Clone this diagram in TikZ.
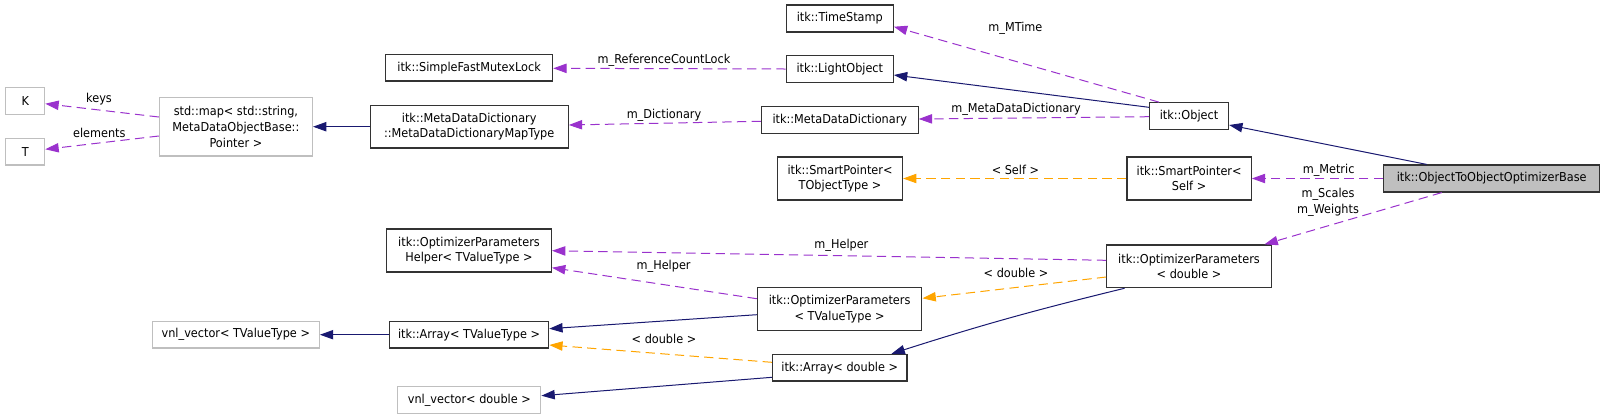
\documentclass[tikz,border=0pt]{standalone}
\usepackage{fontspec}
\setmainfont{DejaVu Sans}[FakeStretch=0.92]
\usetikzlibrary{arrows.meta,calc}
\definecolor{inh}{HTML}{191970}
\definecolor{usg}{HTML}{9A32CD}
\definecolor{tpl}{HTML}{FFA500}
\definecolor{gbd}{HTML}{BFBFBF}
\begin{document}
\begin{tikzpicture}[x=0.75pt,y=-0.75pt,
  font=\fontsize{9.2pt}{11.8pt}\selectfont,
  box/.style={draw=black!80,line width=0.9pt,inner sep=0pt,align=center},
  gbox/.style={draw=gbd,line width=0.9pt,inner sep=0pt,align=center},
  sz/.style 2 args={minimum width=#1*0.75pt,minimum height=#2*0.75pt},
  arr/.style={-{Triangle[length=10pt,width=7pt]},line width=0.75pt},
  inhe/.style={arr,draw=inh},
  usge/.style={arr,draw=usg,dash pattern=on 7pt off 4pt},
  tple/.style={arr,draw=tpl,dash pattern=on 7pt off 4pt},
  lbl/.style={inner sep=0pt,align=center}]
\useasboundingbox (0,0) rectangle (1605,419);
% nodes
\node[gbox,sz={39}{26.6}] (K) at (25.25,101) {K};
\node[gbox,sz={39}{26.7}] (T) at (25.25,151.7) {T};
\node[gbox,sz={153}{58.7}] (map) at (235.9,126.7) {std::map< std::string,\\ MetaDataObjectBase::\\Pointer >};
\node[box,sz={167}{26.7}] (mutex) at (469.1,67.7) {itk::SimpleFastMutexLock};
\node[box,sz={198}{42.7}] (mapType) at (469.2,126.7) {itk::MetaDataDictionary\\::MetaDataDictionaryMapType};
\node[box,sz={107}{27}] (ts) at (839.8,18.5) {itk::TimeStamp};
\node[box,sz={107}{26.6}] (lo) at (839.8,69) {itk::LightObject};
\node[box,sz={156.6}{26.6}] (mdd) at (839.8,120) {itk::MetaDataDictionary};
\node[box,sz={125}{43}] (spt) at (840,178.5) {itk::SmartPointer<\\TObjectType >};
\node[box,sz={79}{26.6}] (obj) at (1189,116) {itk::Object};
\node[box,sz={124.2}{43}] (sps) at (1189.1,178.5) {itk::SmartPointer<\\Self >};
\node[box,fill=gbd,sz={216.3}{27}] (base) at (1491.7,178.5) {itk::ObjectToObjectOptimizerBase};
\node[box,sz={164.5}{42.7}] (opd) at (1189,266.3) {itk::OptimizerParameters\\< double >};
\node[box,sz={164.8}{43}] (helper) at (469,250.5) {itk::OptimizerParameters\\Helper< TValueType >};
\node[gbox,sz={167}{26.7}] (vnlT) at (235.8,334.7) {vnl\_vector< TValueType >};
\node[box,sz={159.3}{26.7}] (arrT) at (469,334.7) {itk::Array< TValueType >};
\node[gbox,sz={143}{26.7}] (vnlD) at (469.3,400) {vnl\_vector< double >};
\node[box,sz={164.5}{43}] (opt) at (839.6,309.2) {itk::OptimizerParameters\\< TValueType >};
\node[box,sz={134.4}{26.7}] (arrD) at (839.7,367.7) {itk::Array< double >};
% edges
\draw[usge] ($(map.west)+(0,-9.7)$) -- ($(K.east)+(0,2.7)$);
\draw[usge] ($(map.west)+(0,9.3)$) -- ($(T.east)+(0,-2.4)$);
\draw[inhe] (mapType.west) -- (map.east);
\draw[usge] ($(mdd.west)+(0,1.3)$) -- ($(mapType.east)+(0,-1.7)$);
\draw[usge] (lo.west) -- ($(mutex.east)+(0,0.6)$);
\draw[usge] ($(obj.north west)+(10,0)$) -- ($(ts.east)+(0,8.2)$);
\draw[inhe] ($(obj.west)+(0,-8.7)$) -- ($(lo.east)+(0,6)$);
\draw[usge] ($(obj.west)+(0,0.7)$) -- ($(mdd.east)+(0,-1)$);
\draw[inhe] ($(base.north)+(-65,0)$) -- ($(obj.east)+(0,9)$);
\draw[usge] (base.west) -- (sps.east);
\draw[tple] (sps.west) -- (spt.east);
\draw[usge] ($(base.south)+(-50,0)$) -- ($(opd.north)+(75.5,0)$);
\draw[usge] ($(opd.west)+(0,-6)$) -- ($(helper.east)+(0,0.2)$);
\draw[usge] ($(opt.west)+(0,-10.5)$) -- ($(helper.east)+(0,17.2)$);
\draw[tple] ($(opd.west)+(0,10.7)$) -- ($(opt.east)+(0,-10.9)$);
\draw[inhe] ($(opt.west)+(0,5.5)$) -- ($(arrT.east)+(0,-6)$);
\draw[inhe] ($(opd.south)+(-64.4,0)$) to[bend right=2] ($(arrD.north)+(51.8,0)$);
\draw[inhe] (arrT.west) -- (vnlT.east);
\draw[tple] ($(arrD.west)+(0,-5.4)$) -- ($(arrT.east)+(0,10.3)$);
\draw[inhe] ($(arrD.west)+(0,9.6)$) -- ($(vnlD.east)+(0,-4.3)$);
% labels
\node[lbl] (l1) at (99,99.3) {keys};
\node[lbl] (l2) at (99.3,132.7) {elements};
\node[lbl] (l3) at (664,115) {m\_Dictionary};
\node[lbl] (l4) at (664,60.7) {m\_ReferenceCountLock};
\node[lbl] (l5) at (1015.4,28.7) {m\_MTime};
\node[lbl] (l6) at (1016,109) {m\_MetaDataDictionary};
\node[lbl] (l7) at (1328.6,170.7) {m\_Metric};
\node[lbl] (l8) at (1015.4,170.3) {< Self >};
\node[lbl] (l9) at (1328,202.5) {m\_Scales\\m\_Weights};
\node[lbl] (l10) at (841.4,245) {m\_Helper};
\node[lbl] (l11) at (663.6,266.7) {m\_Helper};
\node[lbl] (l12) at (1016,272.7) {< double >};
\node[lbl] (l13) at (664,339.3) {< double >};
\end{tikzpicture}
\end{document}
